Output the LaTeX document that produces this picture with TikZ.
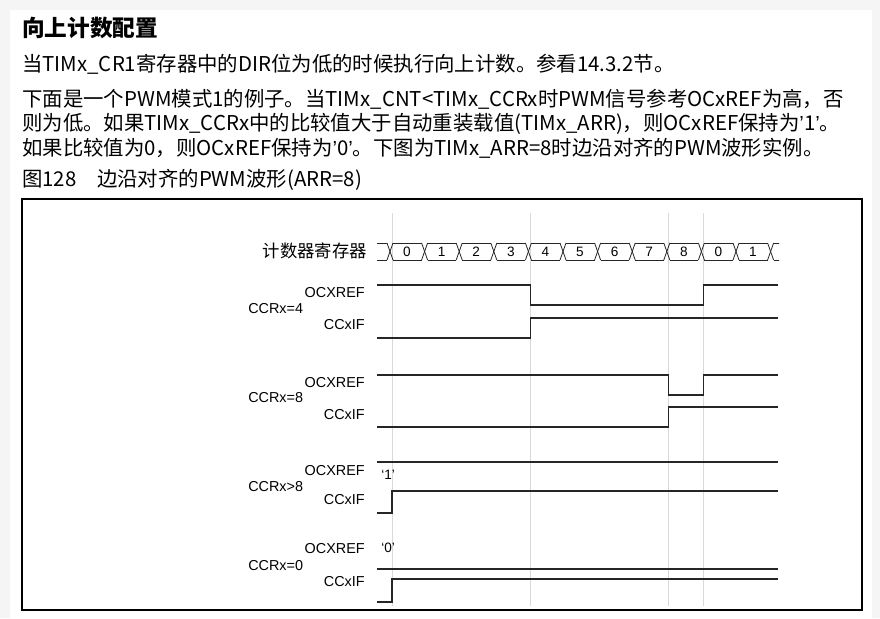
\documentclass[tikz,border=0pt]{standalone}
\usepackage{fontspec}
\setmainfont{Noto Sans CJK SC}
\setsansfont{Liberation Sans}
\newfontfamily\latq{Liberation Sans}
\newcommand{\q}{{\latq ’}}
\begin{document}
\begin{tikzpicture}[x=0.75pt,y=-0.75pt,
  para/.style={anchor=west,inner sep=0pt,font=\fontsize{15.3}{17}\selectfont},
  sig/.style={line width=0.8pt,black!85},
  grid/.style={black!15,line width=0.6pt},
  lbl/.style={anchor=east,inner sep=0pt,font=\sffamily\fontsize{10.8}{12}\selectfont},
  cnt/.style={inner sep=0pt,font=\sffamily\fontsize{10.2}{12}\selectfont}]
\useasboundingbox (0,0) rectangle (880,618);
\fill[black!4] (0,0) rectangle (880,618);
\fill[white] (10,10) rectangle (872,618);
% text above the figure
\node[para,font=\bfseries\fontsize{17}{19}\selectfont] (title) at (22,28) {向上计数配置};
\node[para] (p1) at (22,64) {当TIMx\_CR1寄存器中的DIR位为低的时候执行向上计数。参看14.3.2节。};
\node[para] (p2) at (22,99) {下面是一个PWM模式1的例子。当TIMx\_CNT<TIMx\_CCRx时PWM信号参考OCxREF为高，否};
\node[para] (p3) at (22,124) {则为低。如果TIMx\_CCRx中的比较值大于自动重装载值(TIMx\_ARR)，则OCxREF保持为\q1\q。};
\node[para] (p4) at (22,148) {如果比较值为0，则OCxREF保持为\q0\q。下图为TIMx\_ARR=8时边沿对齐的PWM波形实例。};
\node[para] (cap) at (22,180) {图128\quad 边沿对齐的PWM波形(ARR=8)};
\draw[line width=0.8pt] (22,199) rectangle (862,610);
% grid lines
\foreach \k in {0,4,8,9}
  \draw[grid] ({392+34.6*\k},213) -- ({392+34.6*\k},606);
% counter register
\node[cnt,anchor=east,font=\fontsize{13}{15}\selectfont] (reg) at (367,251) {计数器寄存器};
\begin{scope}
\clip (377,230) rectangle (779,270);
\foreach \k in {-1,...,11} {
  \draw[sig,line width=0.6pt] ({390+34.6*\k-3},243) -- ({390+34.6*\k+3},260);
  \draw[sig,line width=0.6pt] ({390+34.6*\k-3},260) -- ({390+34.6*\k+3},243);
  \draw[sig,line width=0.6pt] ({390+34.6*\k+3},243) -- ({390+34.6*(\k+1)-3},243);
  \draw[sig,line width=0.6pt] ({390+34.6*\k+3},260) -- ({390+34.6*(\k+1)-3},260);
}
\end{scope}
\foreach \v [count=\i from 0] in {0,1,2,3,4,5,6,7,8,0,1}
  \node[cnt] (c\i) at ({407+34.6*\i},251.5) {\v};
% CCRx=4
\node[lbl,anchor=west] (r4) at (248,309) {CCRx=4};
\node[lbl] (o4) at (365,293) {OCXREF};
\node[lbl] (f4) at (365,325) {CCxIF};
\draw[sig] (377,285) -- (530.4,285) -- (530.4,305) -- (703.4,305) -- (703.4,285) -- (778,285);
\draw[sig] (377,338) -- (530.4,338) -- (530.4,318) -- (778,318);
% CCRx=8
\node[lbl,anchor=west] (r8) at (248,398) {CCRx=8};
\node[lbl] (o8) at (365,383) {OCXREF};
\node[lbl] (f8) at (365,415) {CCxIF};
\draw[sig] (377,375) -- (668.8,375) -- (668.8,395) -- (703.4,395) -- (703.4,375) -- (778,375);
\draw[sig] (377,427) -- (668.8,427) -- (668.8,407) -- (778,407);
% CCRx>8
\node[lbl,anchor=west] (rg) at (248,487) {CCRx>8};
\node[lbl] (og) at (365,471) {OCXREF};
\node[lbl] (fg) at (365,500) {CCxIF};
\node[cnt,anchor=west] (one) at (381,475) {‘1’};
\draw[sig] (377,462) -- (778,462);
\draw[sig] (377,513) -- (392,513) -- (392,491) -- (778,491);
% CCRx=0
\node[lbl,anchor=west] (rz) at (248,566) {CCRx=0};
\node[lbl] (oz) at (365,549) {OCXREF};
\node[lbl] (fz) at (365,582) {CCxIF};
\node[cnt,anchor=west] (zero) at (381,548) {‘0’};
\draw[sig] (377,569) -- (778,569);
\draw[sig] (377,602) -- (392,602) -- (392,579) -- (778,579);
\end{tikzpicture}
\end{document}
